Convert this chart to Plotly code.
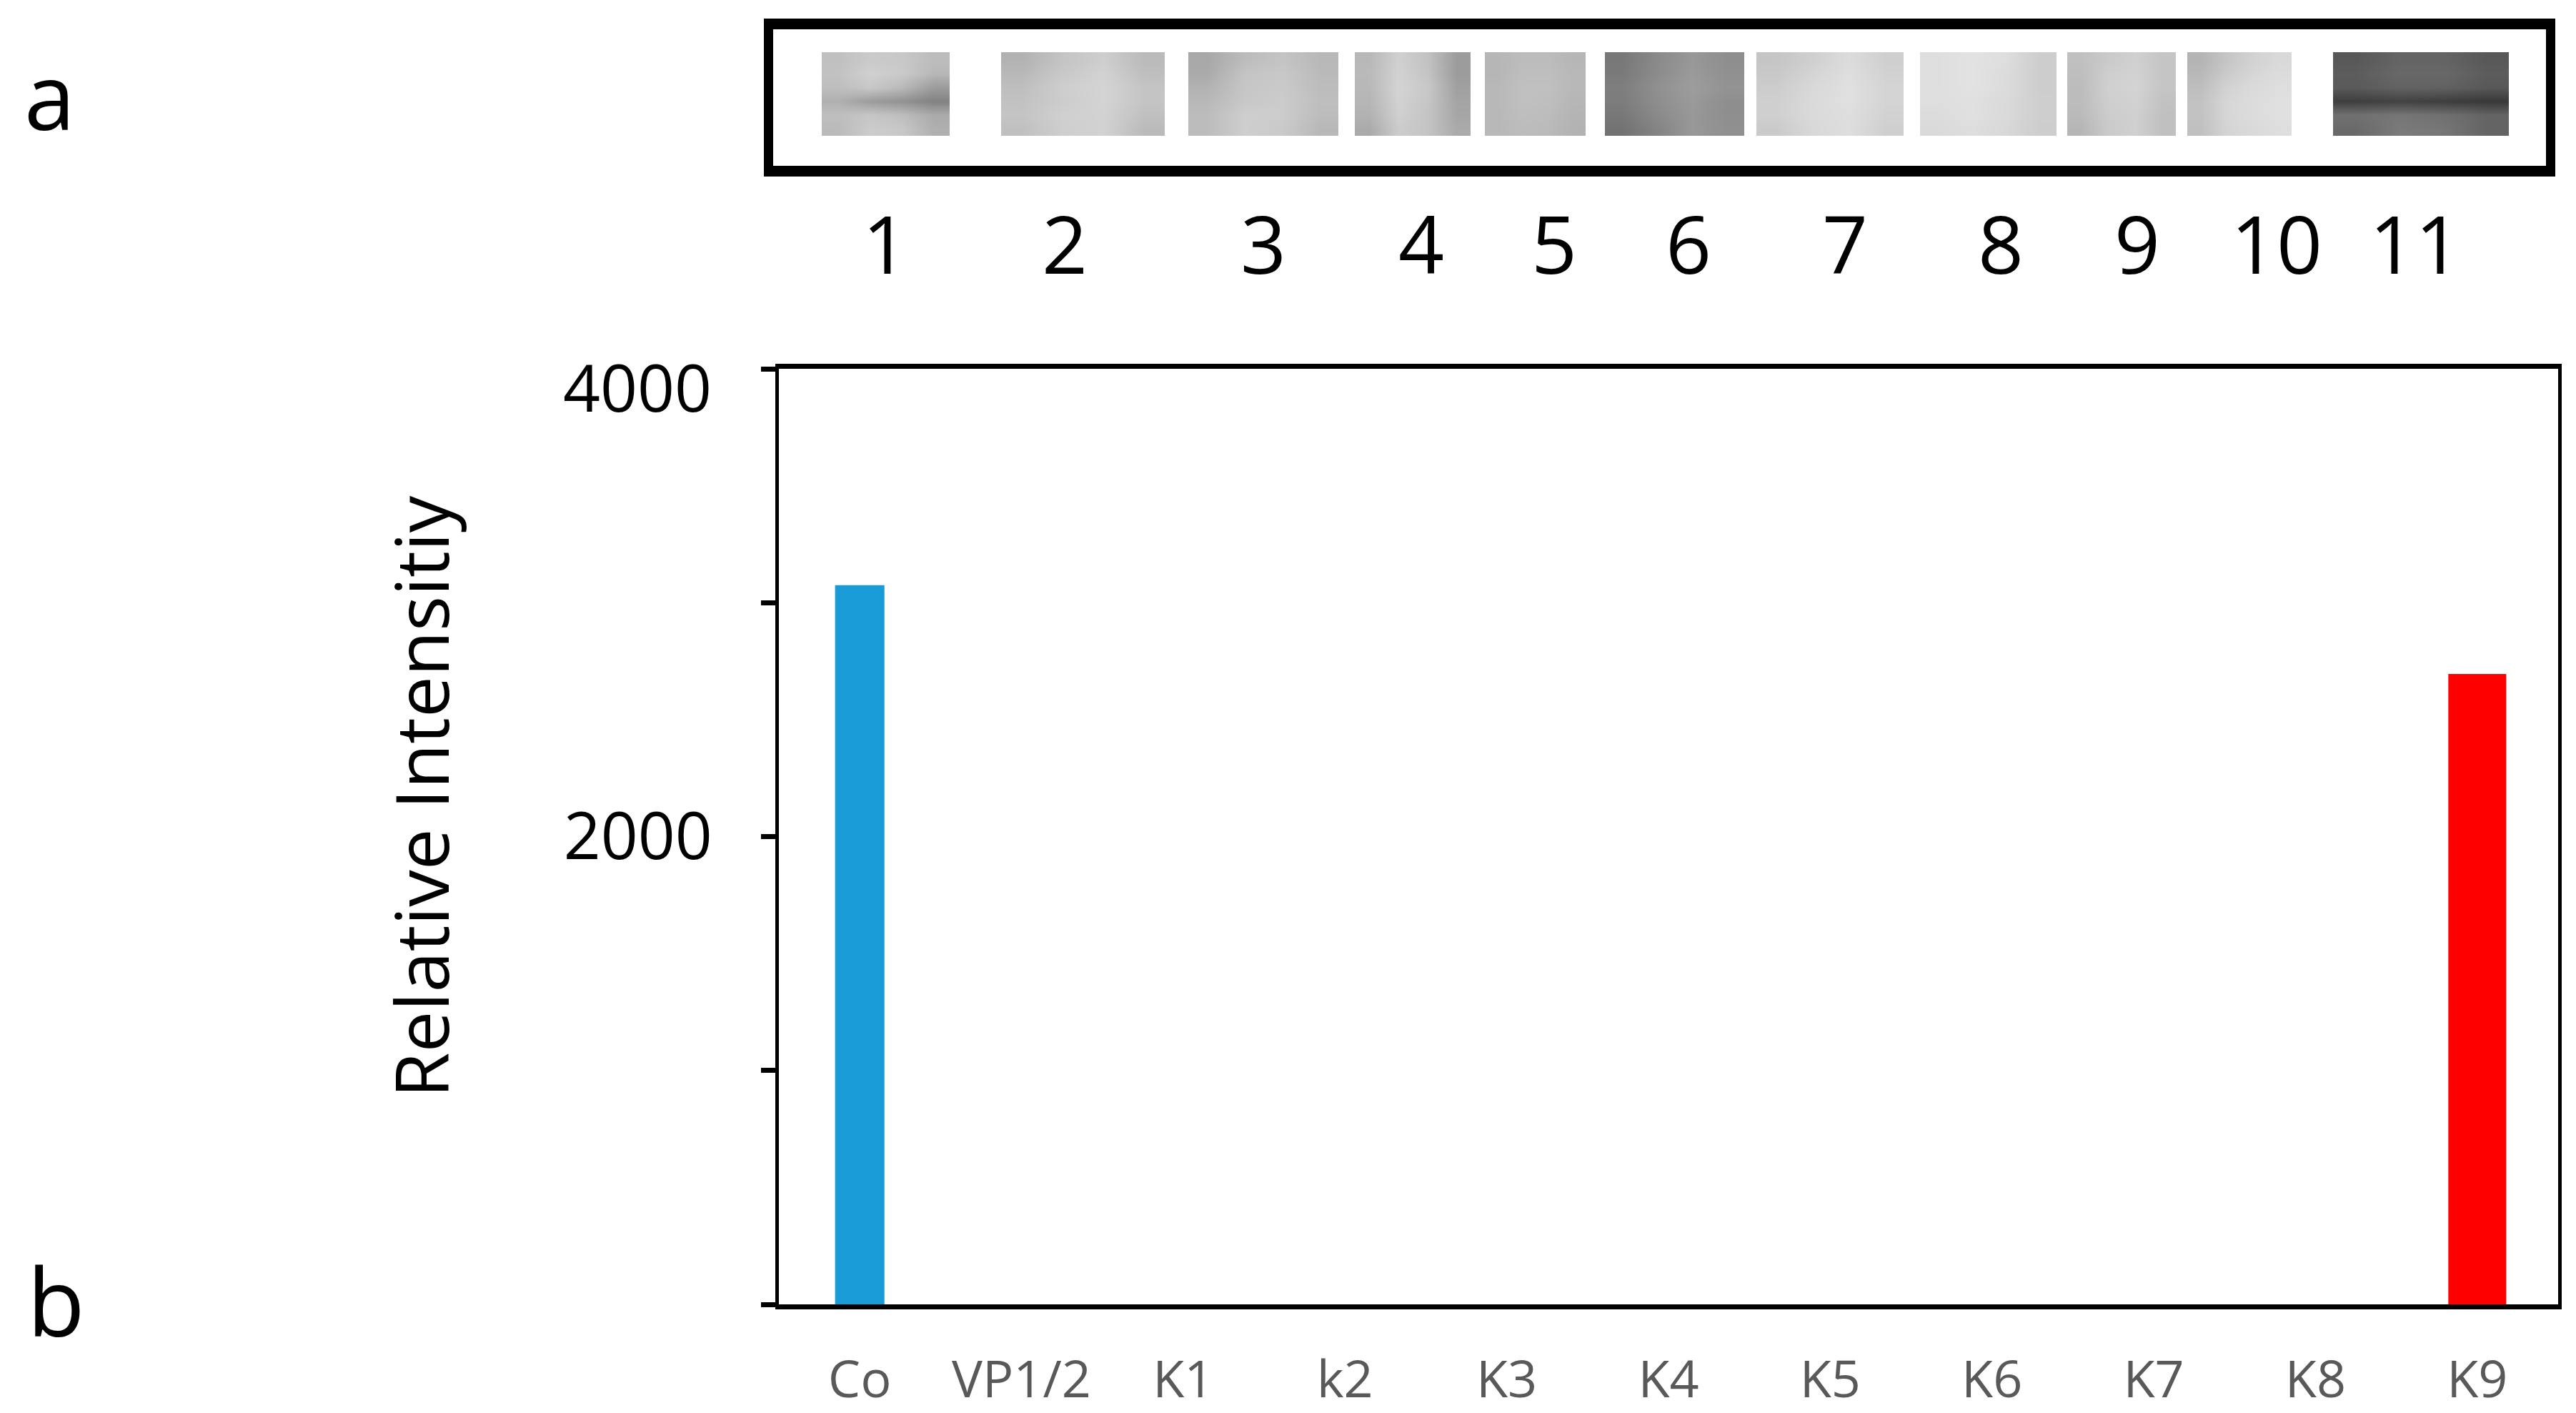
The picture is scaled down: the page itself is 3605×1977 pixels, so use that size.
import numpy as np
import plotly.graph_objects as go

# ---- data ----
categories = ["Co", "VP1/2", "K1", "k2", "K3", "K4", "K5", "K6", "K7", "K8", "K9"]
intensity = [3075, 0, 0, 0, 0, 0, 0, 0, 0, 0, 2695]
bar_colors = ["#189bd7"] + ["#189bd7"] * 9 + ["#ff0000"]
bar_widths = [0.305] + [0.305] * 9 + [0.358]
y_ticks = [0, 1000, 2000, 3000, 4000]
y_tick_text = ["", "", "2000", "", ""]
lane_labels = ["1", "2", "3", "4", "5", "6", "7", "8", "9", "10", "11"]

# grey level of each blot lane: rows top to bottom, columns left to right (0 black, 255 white)
lane1 = [[192, 202, 200, 188], [194, 208, 202, 184], [190, 200, 186, 156], [176, 156, 146, 130], [190, 198, 190, 170], [186, 204, 200, 176]]
lane2 = [[178, 196, 206, 186], [184, 200, 210, 190], [190, 206, 212, 196], [194, 204, 212, 196], [196, 208, 210, 192], [192, 206, 210, 186]]
lane3 = [[168, 188, 196, 184], [170, 196, 200, 186], [178, 198, 202, 188], [184, 200, 204, 190], [188, 206, 204, 188], [188, 206, 202, 184]]
lane4 = [[184, 208, 194, 156], [186, 210, 196, 156], [184, 212, 200, 160], [182, 210, 198, 164], [178, 208, 196, 166], [170, 204, 196, 170]]
lane5 = [[182, 188, 188, 182], [182, 190, 190, 184], [184, 192, 192, 184], [184, 192, 190, 182], [184, 190, 188, 180], [184, 188, 186, 178]]
lane6 = [[120, 138, 152, 142], [122, 140, 154, 144], [126, 144, 157, 147], [124, 142, 154, 142], [120, 138, 152, 142], [114, 132, 152, 144]]
lane7 = [[197, 207, 220, 207], [200, 212, 222, 210], [204, 216, 224, 212], [207, 218, 224, 212], [207, 218, 222, 210], [202, 216, 222, 207]]
lane8 = [[222, 226, 222, 205], [222, 226, 220, 205], [222, 226, 220, 205], [222, 224, 218, 206], [220, 224, 218, 206], [218, 222, 216, 205]]
lane9 = [[192, 202, 208, 197], [190, 206, 210, 197], [188, 208, 212, 197], [188, 206, 210, 194], [186, 204, 208, 192], [182, 202, 208, 192]]
lane10 = [[180, 197, 210, 217], [184, 202, 214, 220], [190, 210, 218, 222], [194, 214, 220, 224], [194, 214, 220, 224], [192, 212, 218, 222]]
lane11 = [[88, 100, 100, 88], [92, 104, 104, 92], [90, 98, 98, 88], [62, 66, 62, 56], [112, 118, 112, 100], [105, 122, 118, 100]]
lanes = [lane1, lane2, lane3, lane4, lane5, lane6, lane7, lane8, lane9, lane10, lane11]

# ---- layout geometry (canvas pixels) ----
W, H = 3605, 1977
lane_spans = [(1150, 1329), (1401, 1630), (1663, 1873), (1896, 2058), (2078, 2219), (2246, 2441),
              (2458, 2664), (2687, 2878), (2893, 3045), (3061, 3207), (3265, 3511)]
lane_label_pos = [1239, 1490, 1768, 1989, 2175, 2363, 2582, 2800, 2991, 3186, 3380]
frame = dict(x0=1082, x1=3563, y0=41, y1=232)
lane_top, lane_bottom = 73, 190
plot = dict(x0=1090, x1=3580, y0=516, y1=1825)

fig = go.Figure()
fig.add_trace(go.Bar(x=categories, y=intensity, width=bar_widths,
                     marker=dict(color=bar_colors, line=dict(width=0)),
                     xaxis="x", yaxis="y", hoverinfo="skip", showlegend=False))

for span, lane in zip(lane_spans, lanes):
    z = np.array(lane)
    fig.add_trace(go.Heatmap(
        z=z,
        x=np.linspace(span[0], span[1], z.shape[1] + 1),
        y=np.linspace(lane_top, lane_bottom, z.shape[0] + 1),
        zmin=0, zmax=255, zsmooth="best",
        colorscale=[[0, "#000000"], [1, "#ffffff"]],
        showscale=False, xaxis="x2", yaxis="y2", hoverinfo="skip"))

FONT = "Open Sans"
fig.update_layout(
    width=W, height=H, autosize=False,
    margin=dict(l=0, r=0, t=0, b=0, pad=0),
    paper_bgcolor="white", plot_bgcolor="white",
    font=dict(family=FONT, color="black"),
    showlegend=False,
    xaxis=dict(domain=[plot["x0"] / W, plot["x1"] / W], anchor="y", automargin=False,
               type="category", categoryorder="array", categoryarray=categories,
               range=[-0.5, 10.5], showgrid=False, zeroline=False,
               showline=True, mirror=True, linecolor="black", linewidth=7,
               ticks="", ticklabelstandoff=37,
               tickfont=dict(size=72, color="#595959", family=FONT)),
    yaxis=dict(domain=[1 - plot["y1"] / H, 1 - plot["y0"] / H], anchor="x", automargin=False,
               range=[0, 4000], tickmode="array", tickvals=y_ticks, ticktext=y_tick_text,
               showgrid=False, zeroline=False,
               showline=True, mirror=True, linecolor="black", linewidth=5,
               ticks="outside", ticklen=20, tickwidth=7, tickcolor="black",
               ticklabelstandoff=50,
               tickfont=dict(size=91, color="black", family=FONT)),
    xaxis2=dict(domain=[frame["x0"] / W, frame["x1"] / W], anchor="y2", automargin=False,
                range=[frame["x0"], frame["x1"]],
                tickmode="array", tickvals=lane_label_pos, ticktext=lane_labels,
                ticks="", ticklabelstandoff=2,
                tickfont=dict(size=112, color="black", family=FONT),
                showgrid=False, zeroline=False,
                showline=True, mirror=True, linecolor="black", linewidth=15),
    yaxis2=dict(domain=[1 - frame["y1"] / H, 1 - frame["y0"] / H], anchor="x2", automargin=False,
                range=[frame["y1"], frame["y0"]],
                showticklabels=False, ticks="", showgrid=False, zeroline=False,
                showline=True, mirror=True, linecolor="black", linewidth=13),
    annotations=[
        dict(text="a", xref="paper", yref="paper", x=69 / W, y=1 - 133 / H,
             xanchor="center", yanchor="middle", showarrow=False,
             font=dict(size=128, color="black", family=FONT)),
        dict(text="b", xref="paper", yref="paper", x=78 / W, y=1 - 1819 / H,
             xanchor="center", yanchor="middle", showarrow=False,
             font=dict(size=132, color="black", family=FONT)),
        dict(text="4000", xref="paper", yref="y", x=998 / W, y=4000, yshift=-25,
             xanchor="right", yanchor="middle", showarrow=False,
             font=dict(size=91, color="black", family=FONT)),
        dict(text="Relative Intensitiy", xref="paper", yref="paper", x=588 / W, y=1 - 1115 / H,
             textangle=-90, xanchor="center", yanchor="middle", showarrow=False,
             font=dict(size=103, color="black", family=FONT)),
    ],
)

fig.write_html("out.html", config={"displayModeBar": False},
               post_script="document.body.style.margin='0';")
